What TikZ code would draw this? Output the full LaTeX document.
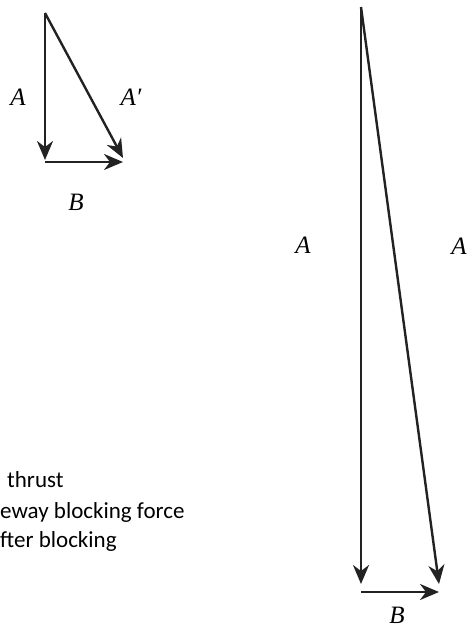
\documentclass[tikz,border=0pt]{standalone}
\usepackage{fontspec}
\setmainfont{Carlito}
\newfontfamily\lblfont{Liberation Serif}
\usepackage{tikz}
\usetikzlibrary{arrows.meta}
\definecolor{vecblack}{HTML}{222222}

\begin{document}
\begin{tikzpicture}[x=1pt, y=-1pt,
    vec/.style={-{Stealth[length=19pt, width=16pt, inset=6pt]}, vecblack, line width=2.4pt},
    lbl/.style={font=\fontsize{25}{25}\selectfont\lblfont\itshape, inner sep=0pt},
    note/.style={font=\fontsize{23}{27}\selectfont, anchor=base west, inner sep=0pt}]
  \useasboundingbox (0,0) rectangle (472,628);
  % small triangle
  \coordinate (s0) at (45,13);
  \coordinate (s1) at (45,160);
  \coordinate (s2) at (45,162);
  \coordinate (s3) at (123,162);
  \coordinate (s4) at (123,158);
  \draw[vec] (s0) -- (s1);
  \draw[vec] (s2) -- (s3);
  \draw[vec] (s0) -- (s4);
  \node[lbl] (sa) at (18,97) {A};
  \node[lbl] (sa2) at (131,97) {A′};
  \node[lbl] (sb) at (76,202) {B};
  % big triangle
  \coordinate (b0) at (361,7);
  \coordinate (b1) at (361,584);
  \coordinate (b2) at (361,592);
  \coordinate (b3) at (439,592);
  \coordinate (b4) at (439,584);
  \draw[vec] (b0) -- (b1);
  \draw[vec] (b2) -- (b3);
  \draw[vec] (b0) -- (b4);
  \node[lbl] (ba) at (303,245) {A};
  \node[lbl] (ba2) at (459,246) {A};
  \node[lbl] (bb) at (397,615) {B};
  % clipped legend lines
  \node[note] (n1) at (7,487) {thrust};
  \node[note] (n2) at (0,518) {eway blocking force};
  \node[note] (n3) at (0,547) {fter blocking};
\end{tikzpicture}
\end{document}
